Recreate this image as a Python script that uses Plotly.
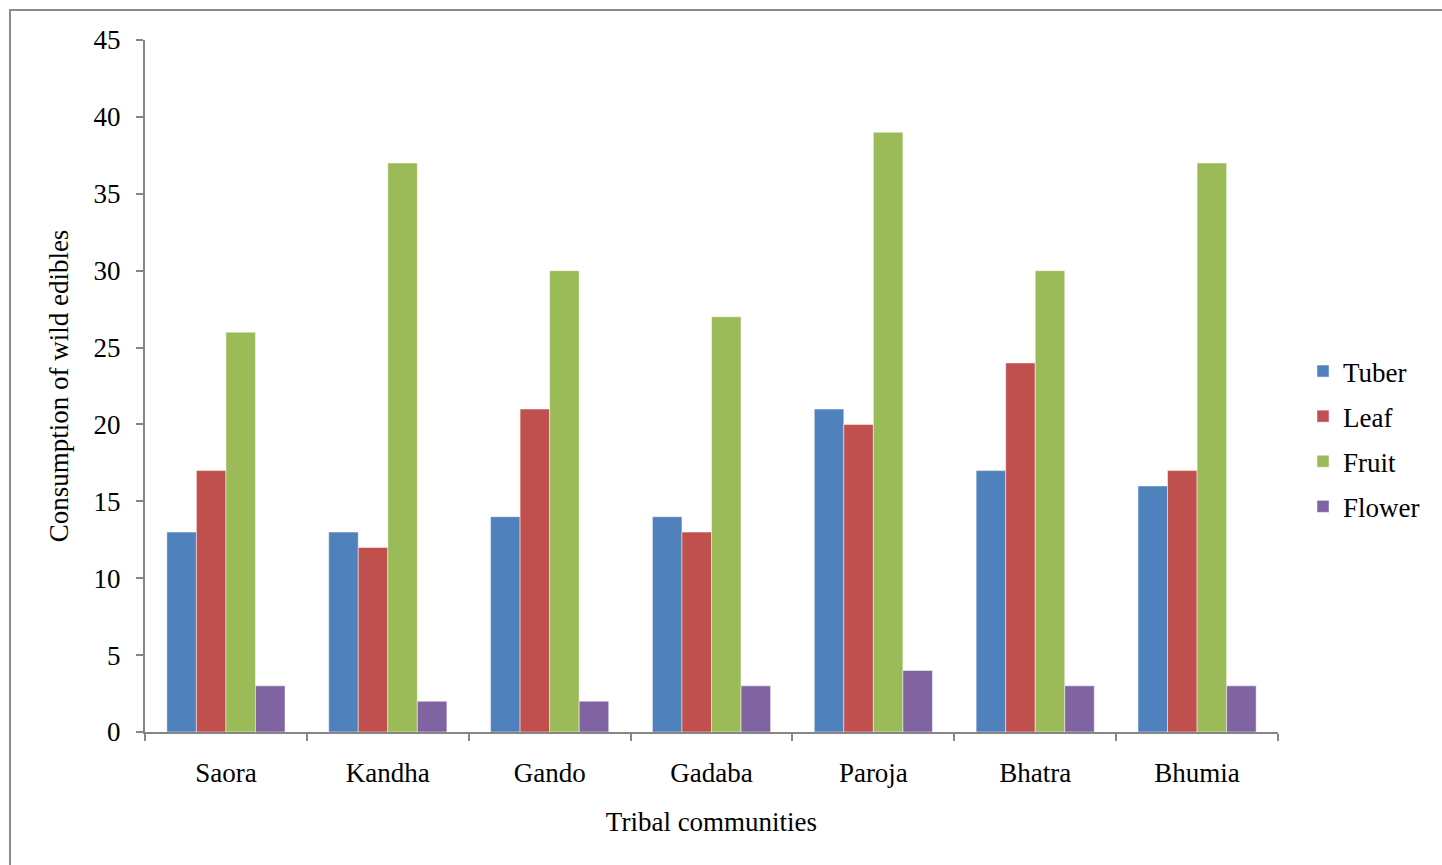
import plotly.graph_objects as go

categories = ["Saora", "Kandha", "Gando", "Gadaba", "Paroja", "Bhatra", "Bhumia"]
tuber = [13, 13, 14, 14, 21, 17, 16]
leaf = [17, 12, 21, 13, 20, 24, 17]
fruit = [26, 37, 30, 27, 39, 30, 37]
flower = [3, 2, 2, 3, 4, 3, 3]

series_names = ["Tuber", "Leaf", "Fruit", "Flower"]
series_values = [tuber, leaf, fruit, flower]
colors = ["#4F81BD", "#C0504D", "#9BBB59", "#8064A2"]

FONT = "Liberation Serif, Times New Roman, serif"
FS = 27
AXIS_COLOR = "#868686"

fig = go.Figure()
for name, vals, col in zip(series_names, series_values, colors):
    fig.add_trace(go.Bar(
        x=categories, y=vals, name=name, legendgroup=name,
        marker=dict(color=col, line=dict(color="rgba(255,255,255,0.6)", width=0.8)),
    ))

W, H = 1442, 865
L, R, T, B = 145, 1442 - 1278, 40, 865 - 732
pw, ph = W - L - R, H - T - B

fig.update_layout(
    width=W, height=H,
    margin=dict(l=L, r=R, t=T, b=B),
    paper_bgcolor="white", plot_bgcolor="white",
    barmode="group", bargap=0.27, bargroupgap=0,
    font=dict(family=FONT, size=FS, color="black"),
    showlegend=True,
    legend=dict(
        x=(1303 - L) / pw, xanchor="left",
        y=(732 - 439) / ph, yanchor="middle",
        traceorder="grouped", tracegroupgap=7,
        font=dict(family=FONT, size=FS, color="black"),
        bgcolor="rgba(0,0,0,0)",
    ),
    xaxis=dict(
        title=dict(text="Tribal communities", font=dict(family=FONT, size=FS), standoff=25),
        showline=True, linecolor=AXIS_COLOR, linewidth=2,
        ticks="outside", tickson="boundaries", ticklen=7, tickcolor=AXIS_COLOR, tickwidth=2,
        tickfont=dict(family=FONT, size=FS), ticklabelstandoff=16,
        showgrid=False, zeroline=False,
    ),
    yaxis=dict(
        title=dict(text="Consumption of wild edibles", font=dict(family=FONT, size=FS), standoff=17),
        range=[0, 45], dtick=5,
        showline=True, linecolor=AXIS_COLOR, linewidth=2,
        ticks="outside", ticklen=7, tickcolor=AXIS_COLOR, tickwidth=2,
        tickfont=dict(family=FONT, size=FS), ticklabelstandoff=10,
        showgrid=False, zeroline=False,
    ),
    shapes=[dict(
        type="rect", xref="paper", yref="paper",
        x0=(10 - L) / pw, x1=1.3, y0=-0.4, y1=1 + (T - 10) / ph,
        line=dict(color="#8c8c8c", width=2), fillcolor="rgba(0,0,0,0)", layer="below",
    )],
)

fig.write_html("out.html")
